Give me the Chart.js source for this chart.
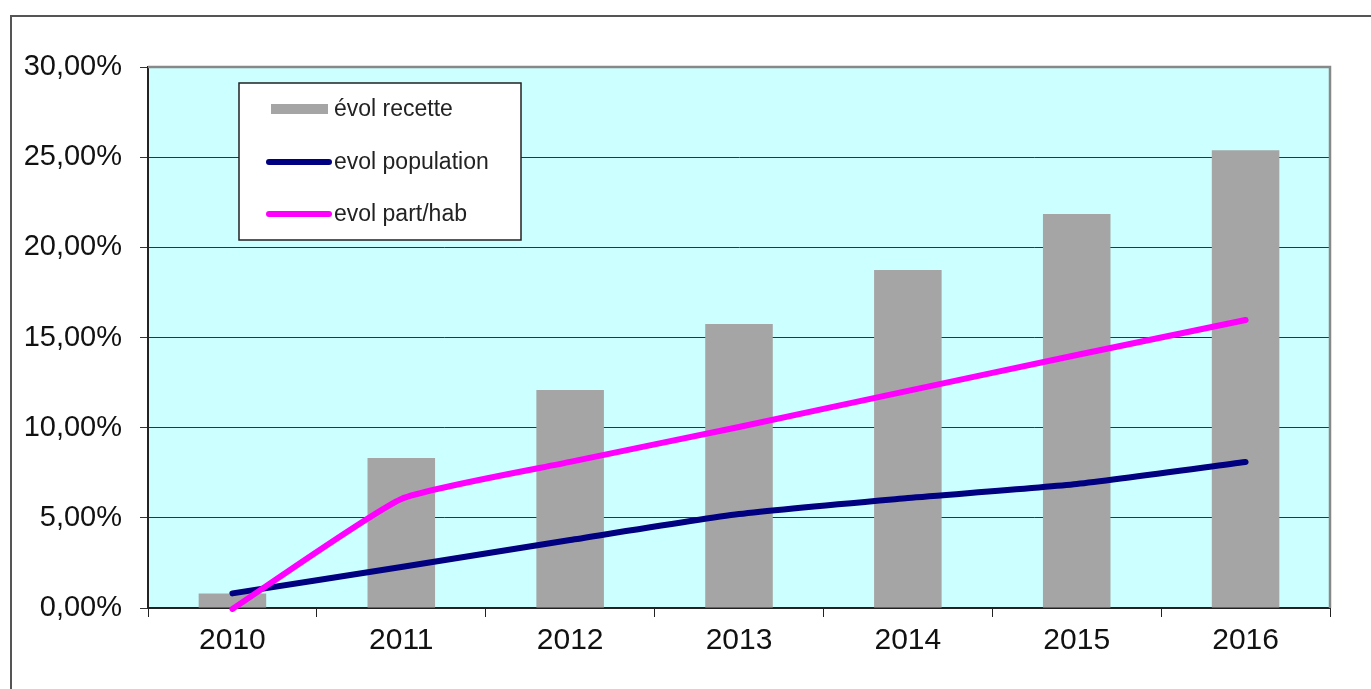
<!DOCTYPE html>
<html lang="fr">
<head>
    <meta charset="UTF-8">
    <title>Évolution recette / population</title>
    <script src="https://cdn.jsdelivr.net/npm/chart.js"></script>
    <style>
        * {
            margin: 0;
            padding: 0;
            box-sizing: border-box;
        }

        body {
            background: white;
            width: 1371px;
            height: 689px;
            overflow: hidden;
            position: relative;
            font-family: 'Liberation Sans', Arial, sans-serif;
        }

        .frame {
            position: absolute;
            left: 10px;
            top: 15px;
            width: 1400px;
            height: 700px;
            border-left: 2px solid #555;
            border-top: 2px solid #555;
        }

        .chart-box {
            position: absolute;
            left: 0;
            top: 0;
            width: 1371px;
            height: 689px;
        }
    </style>
</head>
<body>
    <div class="frame"></div>
    <div class="chart-box">
        <canvas id="evol-chart"></canvas>
    </div>

    <script>
        // données
        const annees = ['2010', '2011', '2012', '2013', '2014', '2015', '2016'];
        const evolRecette = [0.81, 8.32, 12.09, 15.75, 18.75, 21.85, 25.38];
        const evolPopulation = [0.81, 2.27, 3.77, 5.21, 6.1, 6.88, 8.1];
        const evolPartHab = [-0.05, 6.05, 8.1, 10.04, 12.04, 14.03, 15.97];
        const yTicks = [0, 5, 10, 15, 20, 25, 30];

        const fontName = "'Liberation Sans', Arial, sans-serif";

        // fond cyan de la zone de tracé + bords haut/droit gris
        const plotBackground = {
            id: 'plotBackground',
            beforeDraw(chart) {
                const { ctx, chartArea: a } = chart;
                ctx.save();
                ctx.fillStyle = '#CCFFFF';
                ctx.fillRect(a.left, a.top, a.right - a.left, a.bottom - a.top);
                ctx.restore();
            },
            afterDatasetsDraw(chart) {
                const { ctx, chartArea: a } = chart;
                ctx.save();
                ctx.strokeStyle = '#888';
                ctx.lineWidth = 2.5;
                ctx.beginPath();
                ctx.moveTo(a.left, a.top);
                ctx.lineTo(a.right, a.top);
                ctx.lineTo(a.right, a.bottom);
                ctx.stroke();
                ctx.restore();
            }
        };

        // légende encadrée dans la zone de tracé
        const boxLegend = {
            id: 'boxLegend',
            afterDraw(chart) {
                const ctx = chart.ctx;
                const x = 239, y = 83, w = 282, h = 157;
                ctx.save();
                ctx.fillStyle = 'white';
                ctx.fillRect(x, y, w, h);
                ctx.strokeStyle = '#222';
                ctx.lineWidth = 1.5;
                ctx.strokeRect(x, y, w, h);

                const rows = [109, 162, 214];
                ctx.font = '23px ' + fontName;
                ctx.textBaseline = 'middle';
                chart.data.datasets.forEach((ds, i) => {
                    const cy = rows[i];
                    if (ds.type === 'bar') {
                        ctx.fillStyle = ds.backgroundColor;
                        ctx.fillRect(271, cy - 5, 57, 10);
                    } else {
                        ctx.strokeStyle = ds.borderColor;
                        ctx.lineWidth = 6;
                        ctx.lineCap = 'round';
                        ctx.beginPath();
                        ctx.moveTo(269, cy);
                        ctx.lineTo(329, cy);
                        ctx.stroke();
                    }
                    ctx.fillStyle = '#222';
                    ctx.fillText(ds.label, 334, cy + 1);
                });
                ctx.restore();
            }
        };

        const ctx = document.getElementById('evol-chart').getContext('2d');
        new Chart(ctx, {
            data: {
                labels: annees,
                datasets: [{
                    type: 'bar',
                    label: 'évol recette',
                    data: evolRecette,
                    backgroundColor: '#A5A5A5',
                    barPercentage: 0.4,
                    categoryPercentage: 1,
                    order: 3
                },
                {
                    type: 'line',
                    label: 'evol population',
                    data: evolPopulation,
                    borderColor: '#000080',
                    borderWidth: 6,
                    borderCapStyle: 'round',
                    pointRadius: 0,
                    tension: 0.2,
                    clip: 8,
                    order: 2
                },
                {
                    type: 'line',
                    label: 'evol part/hab',
                    data: evolPartHab,
                    borderColor: '#FF00FF',
                    borderWidth: 6,
                    borderCapStyle: 'round',
                    pointRadius: 0,
                    tension: 0.15,
                    clip: 8,
                    order: 1
                }]
            },
            options: {
                responsive: true,
                maintainAspectRatio: false,
                animation: false,
                layout: {
                    padding: { top: 67, right: 41, left: 0, bottom: 0 }
                },
                plugins: {
                    legend: { display: false },
                    tooltip: { enabled: false }
                },
                scales: {
                    x: {
                        offset: true,
                        afterFit(scale) { scale.height = 81; },
                        grid: {
                            offset: true,
                            drawOnChartArea: false,
                            color: '#222',
                            tickLength: 9
                        },
                        border: { color: '#222', width: 2 },
                        ticks: {
                            color: '#111',
                            padding: 6,
                            font: { family: fontName, size: 30 }
                        }
                    },
                    y: {
                        min: 0,
                        max: 30,
                        afterFit(scale) { scale.width = 148; },
                        afterBuildTicks(scale) {
                            scale.ticks = yTicks.map(v => ({ value: v }));
                        },
                        grid: {
                            color: '#333',
                            tickLength: 8
                        },
                        border: { color: '#222', width: 2 },
                        ticks: {
                            color: '#111',
                            padding: 18,
                            font: { family: fontName, size: 29 },
                            callback: v => v.toFixed(2).replace('.', ',') + '%'
                        }
                    }
                }
            },
            plugins: [plotBackground, boxLegend]
        });
    </script>
</body>
</html>
